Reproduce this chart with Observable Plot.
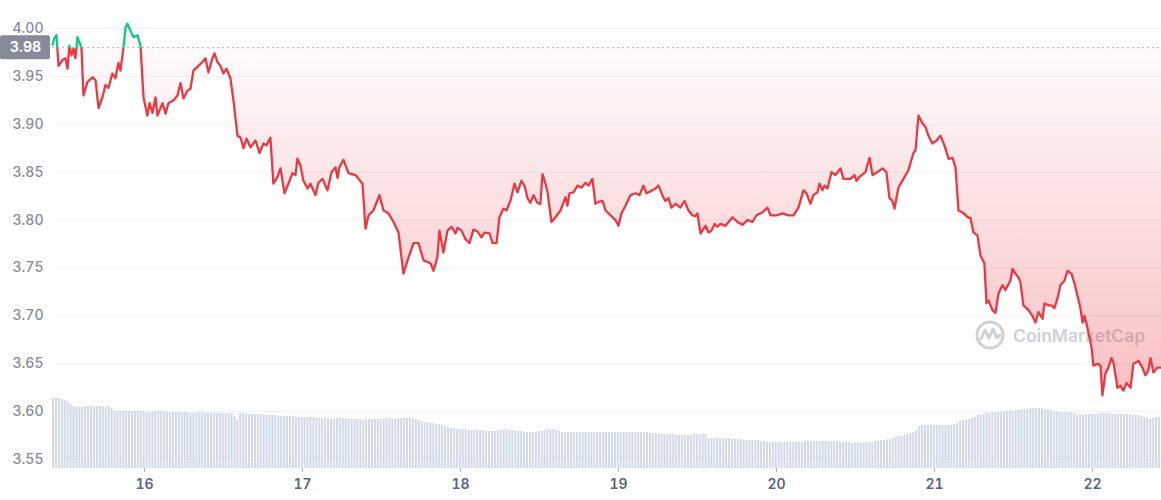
<!DOCTYPE html>
<html>
<head>
<meta charset="utf-8">
<script src="https://cdn.jsdelivr.net/npm/d3@7"></script>
<script src="https://cdn.jsdelivr.net/npm/@observablehq/plot@0.6"></script>
<style>
  html, body { margin: 0; padding: 0; background: #ffffff; }
  #wrap { position: relative; width: 1161px; height: 500px; overflow: hidden; font-family: Inter, sans-serif; }
  #wrap > * { position: absolute; left: 0; top: 0; }
  #wm { left: 975px; top: 319px; }
</style>
</head>
<body>
<div id="wrap">
  <div id="wm">
    <svg width="180" height="32" viewBox="0 0 180 32">
      <circle cx="15" cy="16" r="13" fill="none" stroke="#cdd1d8" stroke-width="3"/>
      <path d="M6,20 L10,11 L14,19 L18,10 L22,19 L25,16" fill="none" stroke="#cdd1d8" stroke-width="3" stroke-linejoin="round" stroke-linecap="round"/>
      <text x="38" y="23" font-family="Inter, sans-serif" font-size="17.5" font-weight="600" fill="#cdd1d8">CoinMarketCap</text>
    </svg>
  </div>
</div>
<script>
// ---- price series (day of month, USD) ----
const dayT = [15.418,15.430,15.443,15.456,15.481,15.500,15.513,15.525,15.538,15.551,15.563,15.576,15.601,15.614,15.639,15.671,15.690,15.709,15.734,15.753,15.772,15.797,15.816,15.835,15.848,15.867,15.880,15.892,15.911,15.930,15.956,15.975,15.994,16.019,16.032,16.051,16.070,16.082,16.114,16.133,16.152,16.184,16.209,16.228,16.247,16.272,16.291,16.310,16.342,16.367,16.386,16.405,16.430,16.443,16.462,16.481,16.500,16.519,16.544,16.563,16.589,16.608,16.627,16.646,16.671,16.703,16.728,16.753,16.772,16.797,16.816,16.842,16.861,16.886,16.911,16.937,16.956,16.968,16.987,17.006,17.032,17.051,17.082,17.101,17.127,17.158,17.184,17.209,17.222,17.234,17.259,17.291,17.335,17.380,17.399,17.418,17.449,17.487,17.513,17.544,17.576,17.608,17.639,17.665,17.703,17.734,17.766,17.810,17.829,17.854,17.867,17.892,17.918,17.943,17.968,17.981,18.006,18.032,18.057,18.082,18.108,18.133,18.152,18.184,18.203,18.228,18.247,18.272,18.291,18.316,18.342,18.361,18.386,18.405,18.424,18.443,18.462,18.487,18.506,18.519,18.538,18.551,18.576,18.601,18.633,18.665,18.677,18.690,18.715,18.741,18.766,18.791,18.810,18.835,18.854,18.873,18.899,18.918,18.949,18.981,19.000,19.019,19.044,19.076,19.108,19.133,19.158,19.177,19.203,19.234,19.253,19.278,19.297,19.316,19.335,19.361,19.392,19.418,19.443,19.468,19.487,19.500,19.519,19.551,19.570,19.589,19.608,19.627,19.646,19.677,19.722,19.753,19.785,19.816,19.848,19.873,19.911,19.943,19.962,20.000,20.038,20.076,20.108,20.139,20.171,20.190,20.215,20.234,20.259,20.272,20.291,20.304,20.323,20.348,20.373,20.405,20.424,20.468,20.494,20.506,20.525,20.563,20.589,20.608,20.639,20.671,20.696,20.715,20.734,20.747,20.772,20.804,20.835,20.867,20.880,20.899,20.924,20.943,20.962,20.987,21.013,21.038,21.063,21.089,21.114,21.133,21.152,21.177,21.209,21.228,21.247,21.272,21.291,21.316,21.329,21.342,21.367,21.386,21.405,21.430,21.449,21.481,21.494,21.513,21.532,21.544,21.563,21.595,21.620,21.639,21.658,21.684,21.696,21.722,21.741,21.759,21.778,21.797,21.823,21.842,21.867,21.886,21.905,21.924,21.937,21.949,21.968,21.994,22.006,22.032,22.051,22.063,22.082,22.101,22.120,22.133,22.158,22.177,22.196,22.215,22.241,22.259,22.291,22.316,22.335,22.354,22.367,22.386,22.411,22.437];
const price = [3.983,3.990,3.993,3.961,3.967,3.969,3.958,3.982,3.972,3.979,3.969,3.991,3.980,3.930,3.944,3.949,3.946,3.917,3.928,3.941,3.938,3.953,3.948,3.964,3.956,3.980,4.001,4.005,3.998,3.991,3.993,3.982,3.928,3.909,3.922,3.912,3.928,3.909,3.922,3.911,3.922,3.925,3.930,3.943,3.927,3.935,3.937,3.956,3.961,3.965,3.969,3.954,3.969,3.974,3.965,3.961,3.953,3.958,3.948,3.925,3.888,3.886,3.875,3.885,3.876,3.883,3.870,3.880,3.878,3.886,3.838,3.845,3.854,3.828,3.838,3.849,3.847,3.864,3.857,3.841,3.833,3.838,3.826,3.839,3.843,3.831,3.850,3.855,3.844,3.855,3.863,3.849,3.847,3.838,3.791,3.805,3.810,3.826,3.810,3.807,3.798,3.787,3.744,3.758,3.776,3.776,3.758,3.755,3.747,3.761,3.789,3.766,3.789,3.793,3.786,3.792,3.789,3.780,3.776,3.790,3.788,3.782,3.787,3.786,3.776,3.776,3.803,3.812,3.810,3.820,3.838,3.829,3.841,3.836,3.823,3.818,3.826,3.818,3.817,3.848,3.838,3.829,3.798,3.803,3.810,3.824,3.815,3.828,3.829,3.836,3.834,3.839,3.836,3.843,3.817,3.819,3.820,3.810,3.805,3.800,3.794,3.807,3.815,3.826,3.828,3.826,3.836,3.828,3.830,3.833,3.836,3.826,3.820,3.823,3.813,3.817,3.813,3.820,3.810,3.805,3.804,3.807,3.786,3.794,3.787,3.789,3.796,3.793,3.796,3.794,3.803,3.798,3.795,3.800,3.798,3.805,3.808,3.813,3.805,3.805,3.807,3.805,3.805,3.813,3.831,3.828,3.817,3.826,3.829,3.838,3.831,3.836,3.833,3.850,3.847,3.854,3.843,3.843,3.847,3.841,3.845,3.850,3.865,3.847,3.850,3.854,3.850,3.823,3.820,3.812,3.834,3.843,3.852,3.870,3.873,3.909,3.901,3.897,3.888,3.880,3.883,3.888,3.878,3.864,3.865,3.855,3.810,3.808,3.803,3.802,3.787,3.784,3.763,3.755,3.713,3.716,3.706,3.703,3.723,3.732,3.727,3.737,3.749,3.744,3.740,3.735,3.711,3.706,3.700,3.693,3.704,3.697,3.713,3.711,3.711,3.708,3.718,3.732,3.737,3.747,3.744,3.734,3.721,3.708,3.693,3.700,3.688,3.667,3.648,3.650,3.648,3.617,3.640,3.646,3.656,3.651,3.625,3.627,3.622,3.630,3.625,3.650,3.653,3.646,3.638,3.643,3.656,3.641,3.646,3.646];

// ---- volume bars (relative volume, one bar per ~27 min from the first timestamp) ----
const volume = [
  70,70,70,69,68,66,64,62,61,61, 61,62,62,62,62,62,62,62,61,62, 60,57,57,57,57,57,57,57,57,57,
  57,57,56,56,56,57,57,57,57,56, 56,56,56,56,56,56,56,55,55,55, 56,56,55,55,55,55,55,55,55,55,
  55,55,52,48,55,55,55,54,54,54, 54,54,54,53,53,53,53,52,52,52, 52,52,52,51,51,51,51,51,51,51,
  50,50,50,50,50,49,49,50,50,50, 49,49,49,49,49,49,48,49,49,49, 49,49,49,49,50,50,49,49,50,50,
  50,50,50,49,49,48,47,46,46,45, 45,44,44,43,42,41,40,40,39,39, 39,39,38,38,38,38,38,38,37,37,
  37,37,38,38,39,39,38,38,37,37, 37,36,36,36,36,36,37,37,38,39, 39,39,38,37,36,36,36,36,36,36,
  36,36,36,36,36,36,36,36,36,36, 36,36,36,36,36,36,36,36,36,36, 36,36,36,36,35,35,35,34,34,34,
  34,34,34,33,33,33,33,33,33,34, 34,34,34,34,30,30,30,30,30,30, 30,30,29,29,29,29,28,28,28,28,
  28,28,27,27,26,26,26,26,26,26, 26,26,26,26,26,26,26,27,27,27, 27,27,27,27,27,27,27,27,27,26,
  26,26,26,25,25,25,25,25,26,26, 26,27,27,28,28,29,29,30,31,32, 32,33,34,35,36,38,42,43,43,43,
  43,43,43,43,43,43,43,43,44,45, 47,48,48,49,50,51,53,53,54,55, 55,56,56,56,56,56,57,57,57,58,
  58,59,59,59,60,60,60,60,60,59, 59,58,57,57,56,56,56,56,56,55, 53,53,53,54,54,54,54,54,55,55,
  55,55,54,54,54,54,54,54,54,53, 53,53,52,51,50,49,50,51,51
];
const volStart = 15.418;
const volStep = 0.01852;

const dayTicks = [16, 17, 18, 19, 20, 21, 22];
const priceTicks = [3.55, 3.60, 3.65, 3.70, 3.75, 3.80, 3.85, 3.90, 3.95, 4.00];
const baseline = 3.98;

const xDomain = [15.418, 22.437];
const yDomain = [3.5407, 4.0292];

const RED = "#ea3943", GREEN = "#16c784";

const priceData = dayT.map((t, i) => ({t, p: price[i]}));
const volData = volume.map((v, i) => ({t: volStart + i * volStep, v}));

const W = 1161, H = 500;
const common = {width: W, height: H, marginLeft: 52, marginRight: 0, marginTop: 0, marginBottom: 32};

const main = Plot.plot({
  ...common,
  style: {fontFamily: "Inter, sans-serif", fontSize: "14px", background: "transparent"},
  x: {domain: xDomain, label: null},
  y: {domain: yDomain, label: null},
  marks: [
    Plot.gridY(priceTicks, {stroke: "#eef0f3", strokeOpacity: 1}),
    Plot.areaY(priceData, {x: "t", y1: () => baseline, y2: "p", fill: "url(#areaGrad)", curve: "linear"}),
    Plot.ruleY([baseline], {stroke: "#aeb3bd", strokeDasharray: "2,3", strokeWidth: 1}),
    Plot.line(priceData, {x: "t", y: "p", stroke: "url(#lineGrad)", strokeWidth: 2.3, strokeLinejoin: "round"}),
    Plot.axisY(priceTicks, {label: null, tickSize: 0, tickPadding: 9, tickFormat: d => d.toFixed(2), color: "#858c9b", fontSize: 14, fontWeight: 500}),
    Plot.axisX(dayTicks, {label: null, tickSize: 4, tickPadding: 7, tickFormat: d => String(d), color: "#58667e", fontSize: 14, fontWeight: 600}),
    Plot.text([baseline], {y: d => d, frameAnchor: "left", textAnchor: "middle", dx: -27, text: d => d.toFixed(2), fill: "white", fontSize: 14, fontWeight: 700})
  ]
});

const vol = Plot.plot({
  ...common,
  style: {background: "transparent"},
  x: {domain: xDomain, axis: null},
  y: {domain: [0, 468], axis: null},
  marks: [
    Plot.rectY(volData, {x1: "t", x2: d => d.t + volStep * 0.68, y: "v", fill: "#d2d9e6"})
  ]
});
vol.style.pointerEvents = "none";

// gradients positioned with the y scale
const ys = main.scale("y");
const yb = ys.apply(baseline);
const yTop = ys.apply(4.01), yBot = ys.apply(3.615);
const s = d3.select(main);
const defs = s.insert("defs", ":first-child");
const lg = defs.append("linearGradient").attr("id", "lineGrad").attr("gradientUnits", "userSpaceOnUse")
  .attr("x1", 0).attr("x2", 0).attr("y1", 0).attr("y2", H);
const f = yb / H;
lg.append("stop").attr("offset", 0).attr("stop-color", GREEN);
lg.append("stop").attr("offset", f).attr("stop-color", GREEN);
lg.append("stop").attr("offset", f).attr("stop-color", RED);
lg.append("stop").attr("offset", 1).attr("stop-color", RED);
const ag = defs.append("linearGradient").attr("id", "areaGrad").attr("gradientUnits", "userSpaceOnUse")
  .attr("x1", 0).attr("x2", 0).attr("y1", yTop).attr("y2", yBot);
const f2 = (yb - yTop) / (yBot - yTop);
ag.append("stop").attr("offset", 0).attr("stop-color", GREEN).attr("stop-opacity", 0.12);
ag.append("stop").attr("offset", f2).attr("stop-color", GREEN).attr("stop-opacity", 0.02);
ag.append("stop").attr("offset", f2).attr("stop-color", RED).attr("stop-opacity", 0.02);
ag.append("stop").attr("offset", 1).attr("stop-color", RED).attr("stop-opacity", 0.32);

// baseline label box (behind the label text)
s.append("rect")
  .attr("x", 0).attr("y", yb - 12).attr("width", 50).attr("height", 24)
  .attr("rx", 2).attr("fill", "#858b9b");
s.selectAll('g[aria-label="text"]').raise();

// axis tick colour
s.selectAll('g[aria-label="x-axis tick"]').attr("stroke", "#a9b1bf");

const wrap = document.getElementById("wrap");
wrap.insertBefore(main, document.getElementById("wm").nextSibling);
wrap.appendChild(vol);
</script>
</body>
</html>
